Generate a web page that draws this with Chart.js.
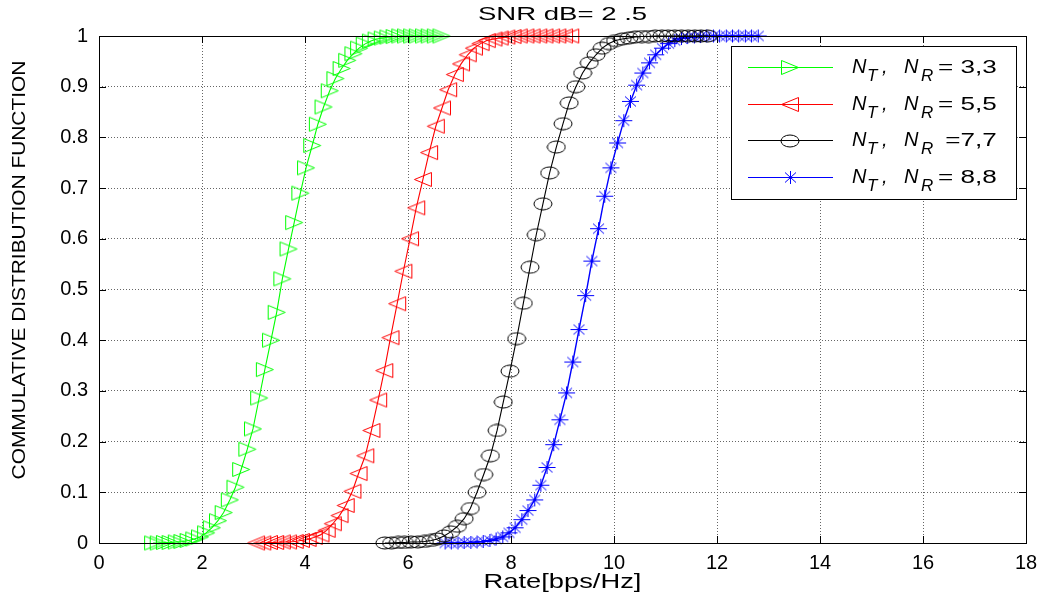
<!DOCTYPE html>
<html>
<head>
<meta charset="utf-8">
<script src="https://cdn.jsdelivr.net/npm/chart.js@4/dist/chart.umd.min.js"></script>
<style>
    html, body { margin: 0; padding: 0; background: #fff; }
    #wrap { width: 1047px; height: 599px; }
</style>
</head>
<body>
<div id="wrap"><canvas id="cdfChart" width="1047" height="599"></canvas></div>
<script>
// Axis ticks
const xTickValues = [0, 2, 4, 6, 8, 10, 12, 14, 16, 18];
const yTickValues = [0, 0.1, 0.2, 0.3, 0.4, 0.5, 0.6, 0.7, 0.8, 0.9, 1];

const seriesLabels = ['3,3', '5,5', '7,7', '8,8'];
const legendSuffix = ['= 3,3', '= 5,5', ' =7,7', '= 8,8'];

// NT, NR = 3,3 (green)
const rate33 = [1.05, 1.16, 1.28, 1.39, 1.51, 1.62, 1.74, 1.85, 1.96, 2.08,
    2.19, 2.31, 2.42, 2.54, 2.65, 2.76, 2.88, 2.99, 3.11, 3.22,
    3.34, 3.45, 3.56, 3.68, 3.79, 3.91, 4.02, 4.14, 4.25, 4.36,
    4.48, 4.59, 4.71, 4.82, 4.94, 5.05, 5.16, 5.28, 5.39, 5.51,
    5.62, 5.74, 5.85, 5.96, 6.08, 6.19, 6.31, 6.42, 6.54, 6.65];
const cdf33 = [0, 0, 0.001, 0.001, 0.002, 0.003, 0.005, 0.008, 0.012, 0.02,
    0.03, 0.044, 0.06, 0.085, 0.11, 0.145, 0.185, 0.225, 0.286, 0.342,
    0.40, 0.455, 0.521, 0.58, 0.632, 0.69, 0.74, 0.784, 0.826, 0.86,
    0.892, 0.916, 0.936, 0.952, 0.965, 0.976, 0.984, 0.99, 0.994, 0.996,
    0.998, 0.999, 1, 1, 1, 1, 1, 1, 1, 1];

// NT, NR = 5,5 (red)
const rate55 = [3.05, 3.17, 3.30, 3.42, 3.55, 3.67, 3.80, 3.92, 4.05, 4.17,
    4.30, 4.42, 4.54, 4.67, 4.79, 4.92, 5.04, 5.17, 5.29, 5.42,
    5.54, 5.66, 5.79, 5.91, 6.04, 6.16, 6.29, 6.41, 6.54, 6.66,
    6.78, 6.91, 7.03, 7.16, 7.28, 7.41, 7.53, 7.66, 7.78, 7.91,
    8.03, 8.15, 8.28, 8.40, 8.53, 8.65, 8.78, 8.90, 9.03, 9.15];
const cdf55 = [0, 0, 0.001, 0.001, 0.002, 0.002, 0.003, 0.005, 0.007, 0.011,
    0.016, 0.025, 0.038, 0.054, 0.074, 0.102, 0.137, 0.172, 0.222, 0.282,
    0.34, 0.405, 0.472, 0.536, 0.60, 0.661, 0.717, 0.77, 0.822, 0.858,
    0.894, 0.924, 0.945, 0.963, 0.976, 0.985, 0.991, 0.994, 0.996, 0.998,
    0.999, 1, 1, 1, 1, 1, 1, 1, 1, 1];

// NT, NR = 7,7 (black)
const rate77 = [5.55, 5.68, 5.81, 5.93, 6.06, 6.19, 6.32, 6.45, 6.57, 6.70,
    6.83, 6.96, 7.09, 7.21, 7.34, 7.47, 7.60, 7.73, 7.85, 7.98,
    8.11, 8.24, 8.37, 8.49, 8.62, 8.75, 8.88, 9.01, 9.13, 9.26,
    9.39, 9.52, 9.65, 9.77, 9.90, 10.03, 10.16, 10.29, 10.41, 10.54,
    10.67, 10.80, 10.93, 11.05, 11.18, 11.31, 11.44, 11.57, 11.69, 11.82];
const cdf77 = [0, 0, 0.001, 0.001, 0.002, 0.002, 0.003, 0.005, 0.008, 0.014,
    0.022, 0.033, 0.048, 0.068, 0.10, 0.135, 0.172, 0.222, 0.278, 0.339,
    0.403, 0.473, 0.544, 0.608, 0.669, 0.73, 0.781, 0.827, 0.868, 0.90,
    0.927, 0.947, 0.963, 0.976, 0.985, 0.991, 0.994, 0.996, 0.998, 0.999,
    0.999, 1, 1, 1, 1, 1, 1, 1, 1, 1];

// NT, NR = 8,8 (blue)
const rate88 = [6.72, 6.84, 6.97, 7.09, 7.22, 7.34, 7.46, 7.59, 7.71, 7.84,
    7.96, 8.08, 8.21, 8.33, 8.46, 8.58, 8.70, 8.83, 8.95, 9.08,
    9.20, 9.32, 9.45, 9.57, 9.70, 9.82, 9.94, 10.07, 10.19, 10.32,
    10.44, 10.56, 10.69, 10.81, 10.94, 11.06, 11.18, 11.31, 11.43, 11.56,
    11.68, 11.80, 11.93, 12.05, 12.18, 12.30, 12.42, 12.55, 12.67, 12.80];
const cdf88 = [0, 0, 0, 0.001, 0.001, 0.002, 0.003, 0.005, 0.008, 0.012,
    0.02, 0.03, 0.046, 0.064, 0.085, 0.114, 0.149, 0.194, 0.243, 0.296,
    0.357, 0.421, 0.488, 0.556, 0.62, 0.684, 0.74, 0.789, 0.833, 0.871,
    0.903, 0.927, 0.947, 0.963, 0.976, 0.985, 0.991, 0.995, 0.997, 0.998,
    0.999, 1, 1, 1, 1, 1, 1, 1, 1, 1];

const FONT = '"Liberation Sans", Arial, Helvetica, sans-serif';

// matlab-like marker glyphs drawn into small canvases
function makeMarker(w, h, color, draw) {
    const c = document.createElement('canvas');
    c.width = w;
    c.height = h;
    const g = c.getContext('2d');
    g.strokeStyle = color;
    g.lineWidth = 1;
    g.beginPath();
    draw(g);
    g.stroke();
    return c;
}

const markRight = makeMarker(20, 17, '#00ff00', g => {
    g.moveTo(1.5, 1.5); g.lineTo(18.5, 8.5); g.lineTo(1.5, 15.5); g.closePath();
});
const markLeft = makeMarker(20, 17, '#ff0000', g => {
    g.moveTo(18.5, 1.5); g.lineTo(1.5, 8.5); g.lineTo(18.5, 15.5); g.closePath();
});
const markCircle = makeMarker(20, 14, '#000000', g => {
    g.ellipse(10, 7, 9, 6, 0, 0, Math.PI * 2);
});
const markStar = makeMarker(19, 15, '#0000ff', g => {
    g.moveTo(1, 7.5); g.lineTo(18, 7.5);
    g.moveTo(9.5, 1); g.lineTo(9.5, 14);
    g.moveTo(4, 2.5); g.lineTo(15, 12.5);
    g.moveTo(4, 12.5); g.lineTo(15, 2.5);
});

const markers = [markRight, markLeft, markCircle, markStar];
const colors = ['#00ff00', '#ff0000', '#000000', '#0000ff'];
const rates = [rate33, rate55, rate77, rate88];
const cdfs = [cdf33, cdf55, cdf77, cdf88];

const datasets = rates.map((r, i) => ({
    label: seriesLabels[i],
    data: r.map((x, k) => ({ x, y: cdfs[i][k] })),
    showLine: true,
    borderColor: colors[i],
    backgroundColor: colors[i],
    borderWidth: i === 3 ? 1.4 : 1.1,
    pointStyle: markers[i],
    pointRadius: 8,
    tension: 0,
    clip: false,
}));

// text drawn a bit wider than the font, as in the exported figure
function stretchedText(ctx, text, x, y, size, sx, rot) {
    ctx.save();
    ctx.translate(x, y);
    if (rot) ctx.rotate(rot);
    ctx.scale(sx, 1);
    ctx.font = size + 'px ' + FONT;
    ctx.fillStyle = '#000';
    ctx.textAlign = 'center';
    ctx.textBaseline = 'middle';
    ctx.fillText(text, 0, 0);
    ctx.restore();
}

const labelsPlugin = {
    id: 'figLabels',
    afterDraw(chart) {
        const ctx = chart.ctx;
        const a = chart.chartArea;
        const cx = (a.left + a.right) / 2;
        stretchedText(ctx, 'SNR dB= 2 .5', cx, 15, 19, 1.45, 0);
        stretchedText(ctx, 'Rate[bps/Hz]', cx, 582, 21, 1.3, 0);
        stretchedText(ctx, 'COMMULATIVE DISTRIBUTION FUNCTION', 20, 270, 19, 1.1, -Math.PI / 2);
    }
};

// box around the axes with inward ticks
const framePlugin = {
    id: 'frame',
    afterDatasetsDraw(chart) {
        const { ctx, chartArea: a, scales } = chart;
        ctx.save();
        ctx.strokeStyle = '#000';
        ctx.lineWidth = 1;
        ctx.beginPath();
        xTickValues.forEach(v => {
            const px = Math.round(scales.x.getPixelForValue(v)) + 0.5;
            ctx.moveTo(px, a.bottom); ctx.lineTo(px, a.bottom - 7);
            ctx.moveTo(px, a.top); ctx.lineTo(px, a.top + 7);
        });
        yTickValues.forEach(v => {
            const py = Math.round(scales.y.getPixelForValue(v)) + 0.5;
            ctx.moveTo(a.left, py); ctx.lineTo(a.left + 7, py);
            ctx.moveTo(a.right, py); ctx.lineTo(a.right - 7, py);
        });
        ctx.stroke();
        ctx.strokeRect(Math.round(a.left) + 0.5, Math.round(a.top) + 0.5,
            Math.round(a.right - a.left), Math.round(a.bottom - a.top));
        ctx.restore();
    }
};

// legend with subscripts
const legendPlugin = {
    id: 'cdfLegend',
    afterDraw(chart) {
        const { ctx, chartArea: a } = chart;
        const w = 285, h = 153;
        const left = a.right - 10 - w;
        const top = a.top + 10;
        ctx.save();
        ctx.fillStyle = '#fff';
        ctx.fillRect(left, top, w, h);
        ctx.strokeStyle = '#000';
        ctx.lineWidth = 1;
        ctx.strokeRect(Math.round(left) + 0.5, Math.round(top) + 0.5, w, h);

        colors.forEach((c, i) => {
            const y = Math.round(top + 21 + i * 36.5) + 0.5;
            ctx.strokeStyle = c;
            ctx.lineWidth = 1;
            ctx.beginPath();
            ctx.moveTo(left + 17, y);
            ctx.lineTo(left + 102, y);
            ctx.stroke();
            const m = markers[i];
            ctx.drawImage(m, Math.round(left + 59 - m.width / 2), Math.round(y - m.height / 2));

            const base = y + 5;
            const tx = left + 121;
            ctx.fillStyle = '#000';
            ctx.textBaseline = 'alphabetic';
            ctx.textAlign = 'left';
            ctx.font = 'italic 20px ' + FONT;
            ctx.fillText('N', tx, base);
            ctx.fillText('N', tx + 52, base);
            ctx.fillText(',', tx + 30, base);
            ctx.font = 'italic 17px ' + FONT;
            ctx.fillText('T', tx + 15, base + 8);
            ctx.fillText('R', tx + 69, base + 8);
            ctx.save();
            ctx.translate(tx + 86, base);
            ctx.scale(1.45, 1);
            ctx.font = '18px ' + FONT;
            ctx.fillText(legendSuffix[i], 0, 0);
            ctx.restore();
        });
        ctx.restore();
    }
};

const ctx = document.getElementById('cdfChart').getContext('2d');
new Chart(ctx, {
    type: 'scatter',
    data: { datasets },
    options: {
        responsive: false,
        animation: false,
        devicePixelRatio: 1,
        layout: { padding: { top: 36, right: 21, left: 0, bottom: 0 } },
        plugins: {
            legend: { display: false },
            tooltip: { enabled: false },
        },
        scales: {
            x: {
                type: 'linear',
                min: 0,
                max: 18,
                afterBuildTicks: s => { s.ticks = xTickValues.map(v => ({ value: v })); },
                afterFit: s => { s.height = 56; },
                ticks: {
                    color: '#000',
                    font: { family: FONT, size: 20 },
                    padding: 8,
                    maxRotation: 0,
                    callback: v => String(v),
                },
                grid: { color: '#666666', lineWidth: 1, drawTicks: false },
                border: { display: false, dash: [1, 2] },
            },
            y: {
                type: 'linear',
                min: 0,
                max: 1,
                afterBuildTicks: s => { s.ticks = yTickValues.map(v => ({ value: v })); },
                afterFit: s => { s.width = 99; },
                ticks: {
                    color: '#000',
                    font: { family: FONT, size: 20 },
                    padding: 11,
                    callback: v => String(Math.round(v * 10) / 10),
                },
                grid: { color: '#666666', lineWidth: 1, drawTicks: false },
                border: { display: false, dash: [1, 2] },
            },
        },
    },
    plugins: [labelsPlugin, framePlugin, legendPlugin],
});
</script>
</body>
</html>
